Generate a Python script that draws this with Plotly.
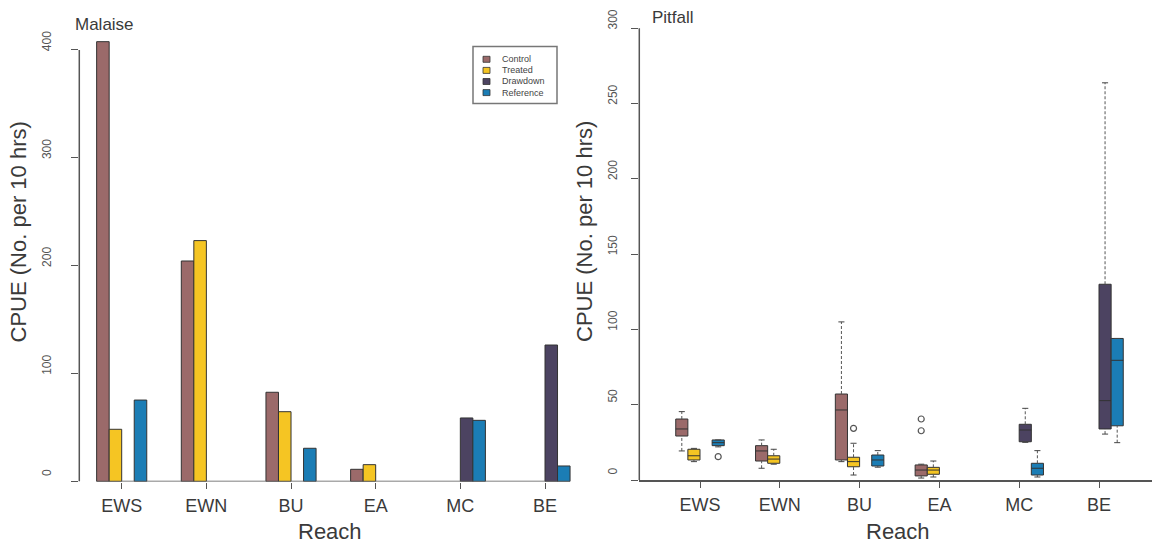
import plotly.graph_objects as go

# ---------------- data ----------------
reaches = ["EWS", "EWN", "BU", "EA", "MC", "BE"]
treatments = ["Control", "Treated", "Drawdown", "Reference"]
colors = ["#9B6A6A", "#F5C523", "#4C4361", "#1B7DB5"]

# Malaise trap CPUE (bars); None = not sampled
malaise_control = [407.7, 204.4, 82.7, 11.3, None, None]
malaise_treated = [48.4, 223.3, 64.7, 15.6, None, None]
malaise_drawdown = [None, None, None, None, 58.9, 126.5]
malaise_reference = [75.5, None, 30.8, None, 56.7, 14.4]

# Pitfall trap CPUE box stats per reach: [lower whisker, q1, median, q3, upper whisker]
pitfall_control = [[19.3, 29.2, 33.9, 40.5, 45.4], [7.8, 12.6, 19.3, 22.8, 26.6],
                   [12.2, 13.3, 46.5, 57.1, 105.0], [1.3, 2.7, 6.6, 10.0, 10.5], None, None]
pitfall_treated = [[12.2, 13.3, 16.1, 20.4, 21.0], [10.5, 11.1, 13.9, 16.1, 20.4],
                   [3.3, 8.8, 12.2, 15.1, 24.4], [2.0, 3.8, 6.6, 8.4, 12.6], None, None]
pitfall_drawdown = [None, None, None, None, [25.0, 25.4, 33.2, 37.0, 47.6],
                    [30.5, 33.9, 52.7, 130.0, 263.8]]
pitfall_reference = [[22.0, 22.8, 24.8, 26.6, 26.6], None, [8.5, 9.3, 13.3, 16.6, 19.5], None,
                     [2.0, 3.3, 7.8, 11.1, 19.5], [24.8, 36.0, 79.5, 94.0, 94.0]]

# Outliers per reach
outliers_control = [[], [], [], [40.5, 32.7], [], []]
outliers_treated = [[], [], [34.3], [], [], []]
outliers_drawdown = [[], [], [], [], [], []]
outliers_reference = [[15.5], [], [], [], [], []]

malaise = [malaise_control, malaise_treated, malaise_drawdown, malaise_reference]
pitfall = [pitfall_control, pitfall_treated, pitfall_drawdown, pitfall_reference]
outliers = [outliers_control, outliers_treated, outliers_drawdown, outliers_reference]

# ---------------- layout constants ----------------
W, H = 1152, 544
FONT = "Liberation Sans, Arial, sans-serif"
TXT = "#3a3a3a"
EDGE = "#333333"


def px(x):
    return x / W


def py(y):
    return 1 - y / H


w_bar = 0.148   # bar width (fraction of group spacing)
w_box = 0.152   # box width / spacing

fig = go.Figure()

# ---------------- Malaise bars ----------------
for k, (name, vals) in enumerate(zip(treatments, malaise)):
    xs = [i + (k - 1.5) * w_bar for i in range(len(reaches))]
    fig.add_trace(go.Bar(
        x=xs, y=vals, width=w_bar, name=name, showlegend=False,
        marker=dict(color=colors[k], line=dict(color=EDGE, width=1)),
        xaxis="x", yaxis="y",
    ))

# ---------------- Pitfall boxes ----------------
for k, (name, stats) in enumerate(zip(treatments, pitfall)):
    xs, lf, q1, med, q3, uf = [], [], [], [], [], []
    for i, s in enumerate(stats):
        if s is None:
            continue
        xs.append(i + (k - 1.5) * w_box)
        lf.append(s[0]); q1.append(s[1]); med.append(s[2]); q3.append(s[3]); uf.append(s[4])
    # dashed whiskers
    wx, wy = [], []
    for x, a, b, c, d in zip(xs, lf, q1, q3, uf):
        wx += [x, x, None, x, x, None]
        wy += [a, b, None, c, d, None]
    fig.add_trace(go.Scatter(x=wx, y=wy, mode="lines", showlegend=False, hoverinfo="skip",
                             line=dict(color="#555555", width=1, dash="3px,2px"),
                             xaxis="x2", yaxis="y2"))
    # whisker caps
    cx, cy = [], []
    cw = w_box * 0.25
    for x, a, d in zip(xs, lf, uf):
        cx += [x - cw, x + cw, None, x - cw, x + cw, None]
        cy += [a, a, None, d, d, None]
    fig.add_trace(go.Scatter(x=cx, y=cy, mode="lines", showlegend=False, hoverinfo="skip",
                             line=dict(color="#444444", width=1),
                             xaxis="x2", yaxis="y2"))
    fig.add_trace(go.Box(
        x=xs, q1=q1, median=med, q3=q3, lowerfence=q1, upperfence=q3,
        width=w_box, whiskerwidth=0, name=name, showlegend=False,
        fillcolor=colors[k], line=dict(color=EDGE, width=1), boxpoints=False,
        xaxis="x2", yaxis="y2",
    ))
    ox, oy = [], []
    for i, pts in enumerate(outliers[k]):
        for p in pts:
            ox.append(i + (k - 1.5) * w_box)
            oy.append(p)
    if ox:
        fig.add_trace(go.Scatter(x=ox, y=oy, mode="markers", showlegend=False,
                                 marker=dict(symbol="circle-open", size=6, color="#555555",
                                             line=dict(width=1.2)),
                                 xaxis="x2", yaxis="y2"))

# ---------------- axes ----------------
n = len(reaches)
left_center0, left_step, left_axis = 121.7, 84.66, 79.3
right_center0, right_step, right_axis = 700.0, 79.8, 639.3

axis_common = dict(showgrid=False, zeroline=False, ticks="outside", tickcolor="#555555",
                   tickwidth=1, automargin=False)

fig.update_layout(
    width=W, height=H,
    margin=dict(l=0, r=0, t=0, b=0, autoexpand=False),
    paper_bgcolor="white", plot_bgcolor="white",
    font=dict(family=FONT, color=TXT),
    barmode="overlay",
    xaxis=dict(domain=[px(left_axis), px(580)],
               range=[(left_axis - left_center0) / left_step, (580 - left_center0) / left_step],
               tickvals=list(range(n)), ticktext=reaches, ticklen=6, ticklabelstandoff=2,
               tickfont=dict(size=18, color=TXT), showline=False, **axis_common),
    yaxis=dict(domain=[py(481.5), py(20)], range=[0, (481.5 - 20) / 1.0788],
               tickvals=[0, 100, 200, 300, 400], ticklen=7, tickangle=-90,
               tickfont=dict(size=12, color="#555555"), ticklabelstandoff=16,
               ticklabelshift=-7, showline=False, **axis_common),
    xaxis2=dict(domain=[px(right_axis), 1.0],
                range=[(right_axis - right_center0) / right_step, (W - right_center0) / right_step],
                tickvals=list(range(n)), ticktext=reaches, ticklen=6, ticklabelstandoff=2,
                tickfont=dict(size=18, color=TXT), showline=True, linecolor="#555555",
                linewidth=1.5, anchor="y2", **axis_common),
    yaxis2=dict(domain=[py(480), py(20)], range=[0, 460 / 1.5057], anchor="x2",
                tickvals=[0, 50, 100, 150, 200, 250, 300], ticklen=7, tickangle=-90,
                tickfont=dict(size=12, color="#555555"), ticklabelstandoff=10,
                ticklabelshift=-7, showline=False, **axis_common),
)

shapes = []
# R-style axis lines spanning only the tick range
shapes.append(dict(type="line", xref="x domain", yref="y", x0=0, x1=0, y0=0, y1=400,
                   line=dict(color="#555555", width=1.5)))
shapes.append(dict(type="line", xref="x2 domain", yref="y2", x0=0, x1=0, y0=0, y1=300,
                   line=dict(color="#555555", width=1.5)))
shapes.append(dict(type="line", xref="x", yref="y", x0=-2 * w_bar, x1=(n - 1) + 2 * w_bar,
                   y0=0, y1=0, line=dict(color="#555555", width=1.5)))


def ann(text, x, y, size, angle=0, xanchor="center", color=TXT):
    return dict(text=text, x=px(x), y=py(y), xref="paper", yref="paper", xanchor=xanchor,
                yanchor="middle", textangle=angle, showarrow=False,
                font=dict(size=size, color=color))


annotations = [
    ann("Malaise", 73, 25, 17, xanchor="left"),
    ann("Pitfall", 650, 18, 17, xanchor="left"),
    ann("CPUE (No. per 10 hrs)", 17.5, 232, 22, angle=-90),
    ann("CPUE (No. per 10 hrs)", 584, 232, 22, angle=-90),
    ann("Reach", 330, 531, 22),
    ann("Reach", 898, 531, 22),
]

# manual legend (compact, R style)
shapes.append(dict(type="rect", xref="paper", yref="paper", x0=px(473), x1=px(557),
                   y0=py(103.5), y1=py(46.5), line=dict(color="#777777", width=1.5),
                   fillcolor="white"))
for k, name in enumerate(treatments):
    cy = 59.3 + k * 11.1
    shapes.append(dict(type="rect", xref="paper", yref="paper", x0=px(483), x1=px(490),
                       y0=py(cy + 3), y1=py(cy - 3), fillcolor=colors[k],
                       line=dict(color=EDGE, width=0.8)))
    annotations.append(ann(name, 500, cy, 9, xanchor="left", color="#444444"))

fig.update_layout(shapes=shapes, annotations=annotations)
fig.write_html("out.html")
